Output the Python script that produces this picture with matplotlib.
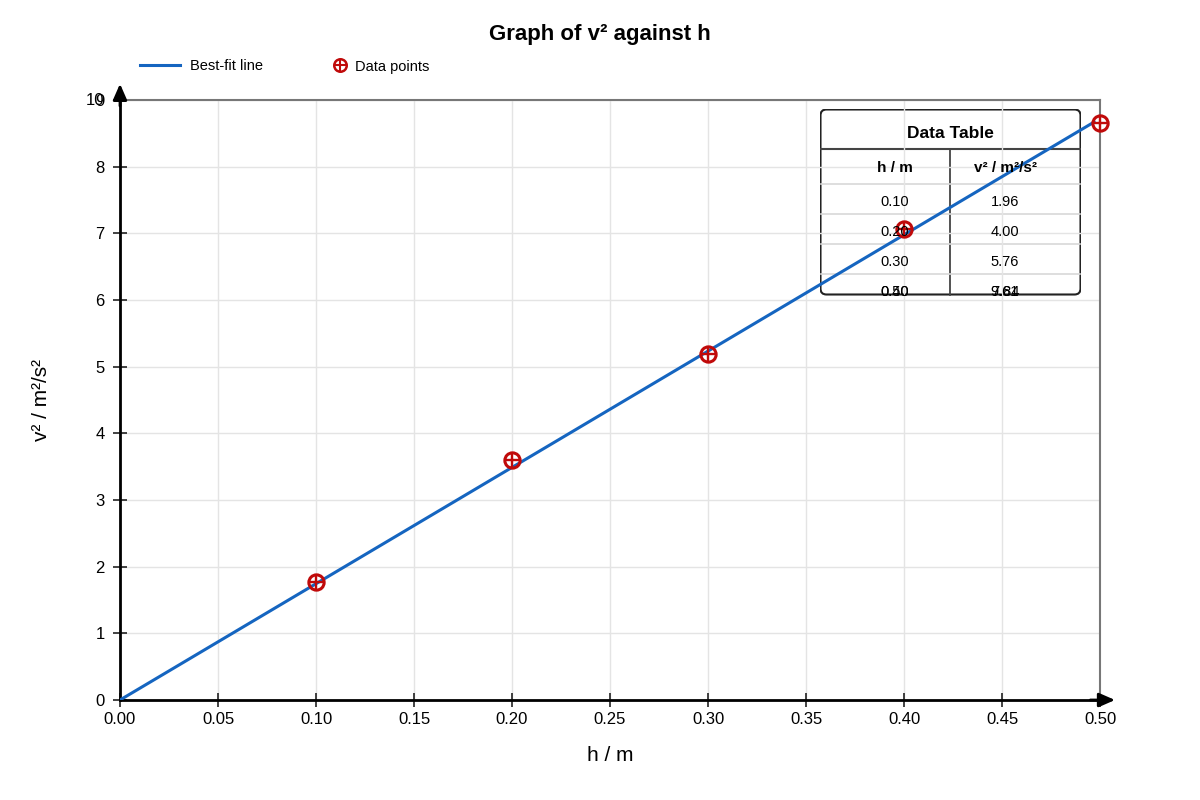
import matplotlib
matplotlib.use("Agg")
import matplotlib.pyplot as plt
from matplotlib.lines import Line2D
from matplotlib.patches import FancyBboxPatch
from matplotlib.transforms import offset_copy

plt.rcParams['font.family'] = ['Liberation Sans', 'DejaVu Sans']

# measured points
h = [0.10, 0.20, 0.30, 0.40, 0.50]
v2 = [1.77, 3.60, 5.19, 7.07, 8.65]

# best-fit line through origin
fit_h = [0.0, 0.497]
fit_v2 = [0.0, 8.67]

# values shown in the data table
table_h = ['0.10', '0.20', '0.30', '0.40', '0.50']
table_v2 = ['1.96', '4.00', '5.76', '7.84', '9.61']

x_ticks = [0.00, 0.05, 0.10, 0.15, 0.20, 0.25, 0.30, 0.35, 0.40, 0.45, 0.50]
y_ticks = [0, 1, 2, 3, 4, 5, 6, 7, 8, 9]

blue = '#1565c0'
red = '#c00a0a'

fig = plt.figure(figsize=(12, 8), dpi=100, facecolor='white')
ax = fig.add_axes([0.1, 0.125, 0.8167, 0.75])
ax.set_zorder(2)
ax.patch.set_visible(False)

ax.plot(fit_h, fit_v2, color=blue, lw=2.2, zorder=3)
ax.plot(h, v2, 'o', ms=11, mfc='none', mec=red, mew=2.2, zorder=4, clip_on=False)
ax.plot(h, v2, '+', ms=11, mec=red, mew=1.7, zorder=4, clip_on=False)

ax.set_xlim(0, 0.5)
ax.set_ylim(0, 9)
ax.set_xticks(x_ticks)
ax.set_xticklabels([f'{t:.2f}' for t in x_ticks])
ax.set_yticks(y_ticks)
ax.grid(True, color='#e4e4e4', lw=1)
ax.set_axisbelow(True)
ax.tick_params(direction='inout', length=10, width=1.2, labelsize=12, color='#222222')
ax.tick_params(axis='y', pad=6)
ax.tick_params(axis='x', pad=4)
# stray "10" label drawn on top of the "9"
ten_tr = offset_copy(ax.get_yaxis_transform(), fig=fig, x=-11, y=0, units='points')
ax.text(0, 9, '10', transform=ten_tr, ha='right', va='center', fontsize=12)

for s in ['top', 'right']:
    ax.spines[s].set_color('#777777')
    ax.spines[s].set_linewidth(1.5)
for s in ['left', 'bottom']:
    ax.spines[s].set_color('black')
    ax.spines[s].set_linewidth(2)

arrow = dict(arrowstyle='-|>,head_length=0.8,head_width=0.35', color='black', lw=2,
             mutation_scale=12, shrinkA=0, shrinkB=0)
ax.annotate('', xy=(0, 1.027), xycoords='axes fraction', xytext=(0, 0.99), arrowprops=arrow)
ax.annotate('', xy=(1.0153, 0), xycoords='axes fraction', xytext=(0.99, 0), arrowprops=arrow)

ax.set_xlabel('h / m', fontsize=15, labelpad=13)
ax.set_ylabel('v² / m²/s²', fontsize=15, labelpad=32)
fig.suptitle('Graph of v² against h', fontsize=16, fontweight='bold', y=0.97)

# legend across the top
ly = 1 - 65 / 800
fig.add_artist(Line2D([140 / 1200, 180 / 1200], [ly, ly], color=blue, lw=2.2))
fig.text(190 / 1200, ly, 'Best-fit line', fontsize=10.5, va='center_baseline')
fig.add_artist(Line2D([340 / 1200], [ly], marker='o', ms=9, mfc='none', mec=red, mew=1.8))
fig.add_artist(Line2D([340 / 1200], [ly], marker='+', ms=9, mec=red, mew=1.5))
fig.text(355 / 1200, ly, 'Data points', fontsize=10.5, va='center_baseline')

# data table box (pixel units inside its own axes, drawn under the plot)
tax = fig.add_axes([820 / 1200, 1 - 296 / 800, 261 / 1200, 187 / 800])
tax.set_zorder(1)
tax.set_xlim(0, 261)
tax.set_ylim(187, 0)
tax.axis('off')
tax.add_patch(FancyBboxPatch((0.5, 0.5), 260, 185, boxstyle='round,pad=0,rounding_size=6',
                             fc='none', ec='#222222', lw=1.5))
tax.plot([0.5, 260.5], [40, 40], color='#444444', lw=1.5)
tax.plot([130, 130], [40, 185.5], color='#444444', lw=1.3)
for yy in [75, 105, 135, 165]:
    tax.plot([1, 260], [yy, yy], color='#d8d8d8', lw=1.2)

# table texts sit above the grid
def cell(x, y, s, **kw):
    fig.text(x, y, s, transform=tax.transData, ha='center', va='center_baseline', zorder=5, **kw)

cell(130, 23, 'Data Table', fontsize=12.5, fontweight='bold')
cell(75, 58, 'h / m', fontsize=11, fontweight='bold')
cell(185, 58, 'v² / m²/s²', fontsize=11, fontweight='bold')
for i, (a, b) in enumerate(zip(table_h, table_v2)):
    row_y = 91 + 30 * min(i, 3)
    cell(75, row_y, a, fontsize=10.5)
    cell(185, row_y, b, fontsize=10.5)

fig.savefig('out.png', dpi=100)
